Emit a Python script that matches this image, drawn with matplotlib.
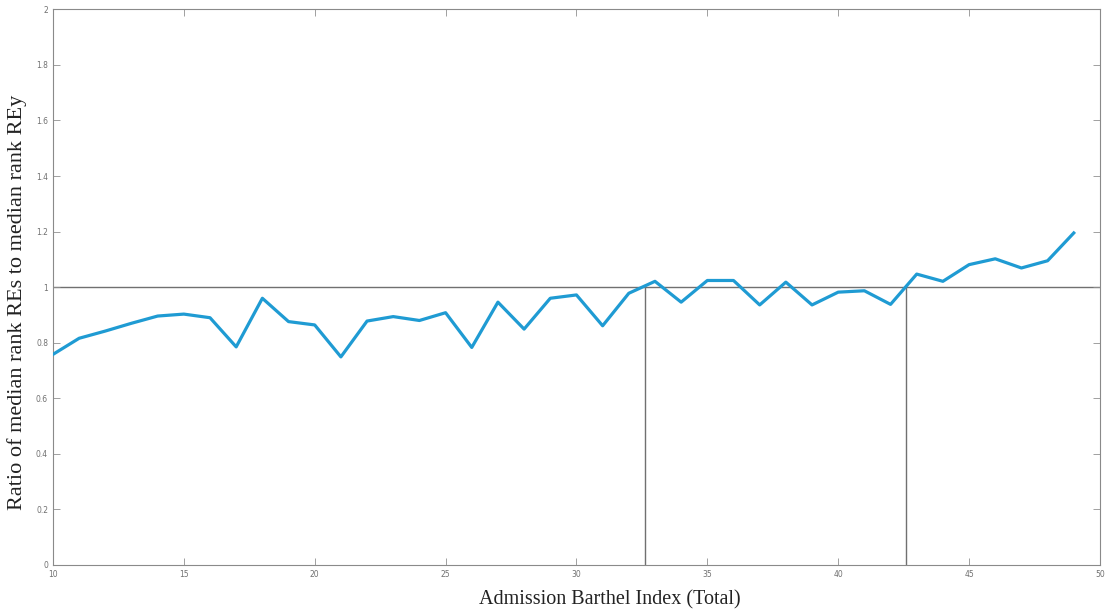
import matplotlib
matplotlib.use("Agg")
import matplotlib.pyplot as plt
import numpy as np

# ── Data ──
barthel = np.arange(10, 50)
ratio = [0.758, 0.816, 0.842, 0.870, 0.896, 0.903, 0.890, 0.785, 0.960, 0.876,
         0.864, 0.749, 0.878, 0.894, 0.880, 0.908, 0.783, 0.946, 0.849, 0.960,
         0.972, 0.861, 0.978, 1.021, 0.946, 1.024, 1.024, 0.936, 1.018, 0.936,
         0.982, 0.987, 0.938, 1.047, 1.021, 1.081, 1.102, 1.069, 1.095, 1.195]
cut_points = [32.6, 42.6]
x_ticks = [10, 15, 20, 25, 30, 35, 40, 45, 50]
y_ticks = [0, 0.2, 0.4, 0.6, 0.8, 1, 1.2, 1.4, 1.6, 1.8, 2]

fig = plt.figure(figsize=(11.15, 6.12), dpi=100)
ax = fig.add_axes([0.0475, 0.0768, 0.939, 0.908])

ax.axhline(1, color='#707070', lw=1.0, zorder=1)
for c in cut_points:
    ax.plot([c, c], [0, 1], color='#707070', lw=1.0, zorder=1)

ax.plot(barthel, ratio, color='#1f9bd3', lw=2.3, zorder=3)

ax.set_xlim(10, 50)
ax.set_ylim(0, 2)
ax.set_xticks(x_ticks)
ax.set_yticks(y_ticks)
ax.set_yticklabels([f"{v:g}" for v in y_ticks])
ax.tick_params(direction='in', length=5, width=0.6, colors='#909090',
               labelsize=5.5, top=True, right=True, labelcolor='#707070')
for s in ax.spines.values():
    s.set_color('#8a8a8a')
    s.set_linewidth(0.8)

ax.set_xlabel("Admission Barthel Index (Total)", family='Liberation Serif',
              fontsize=14.5, color='#222222')
ax.xaxis.set_label_coords(0.532, -0.045)
ax.set_ylabel("Ratio of median rank REs to median rank REy", family='Liberation Serif',
              fontsize=16, color='#222222')
ax.yaxis.set_label_coords(-0.025, 0.473)

plt.savefig("out.png", dpi=100)
